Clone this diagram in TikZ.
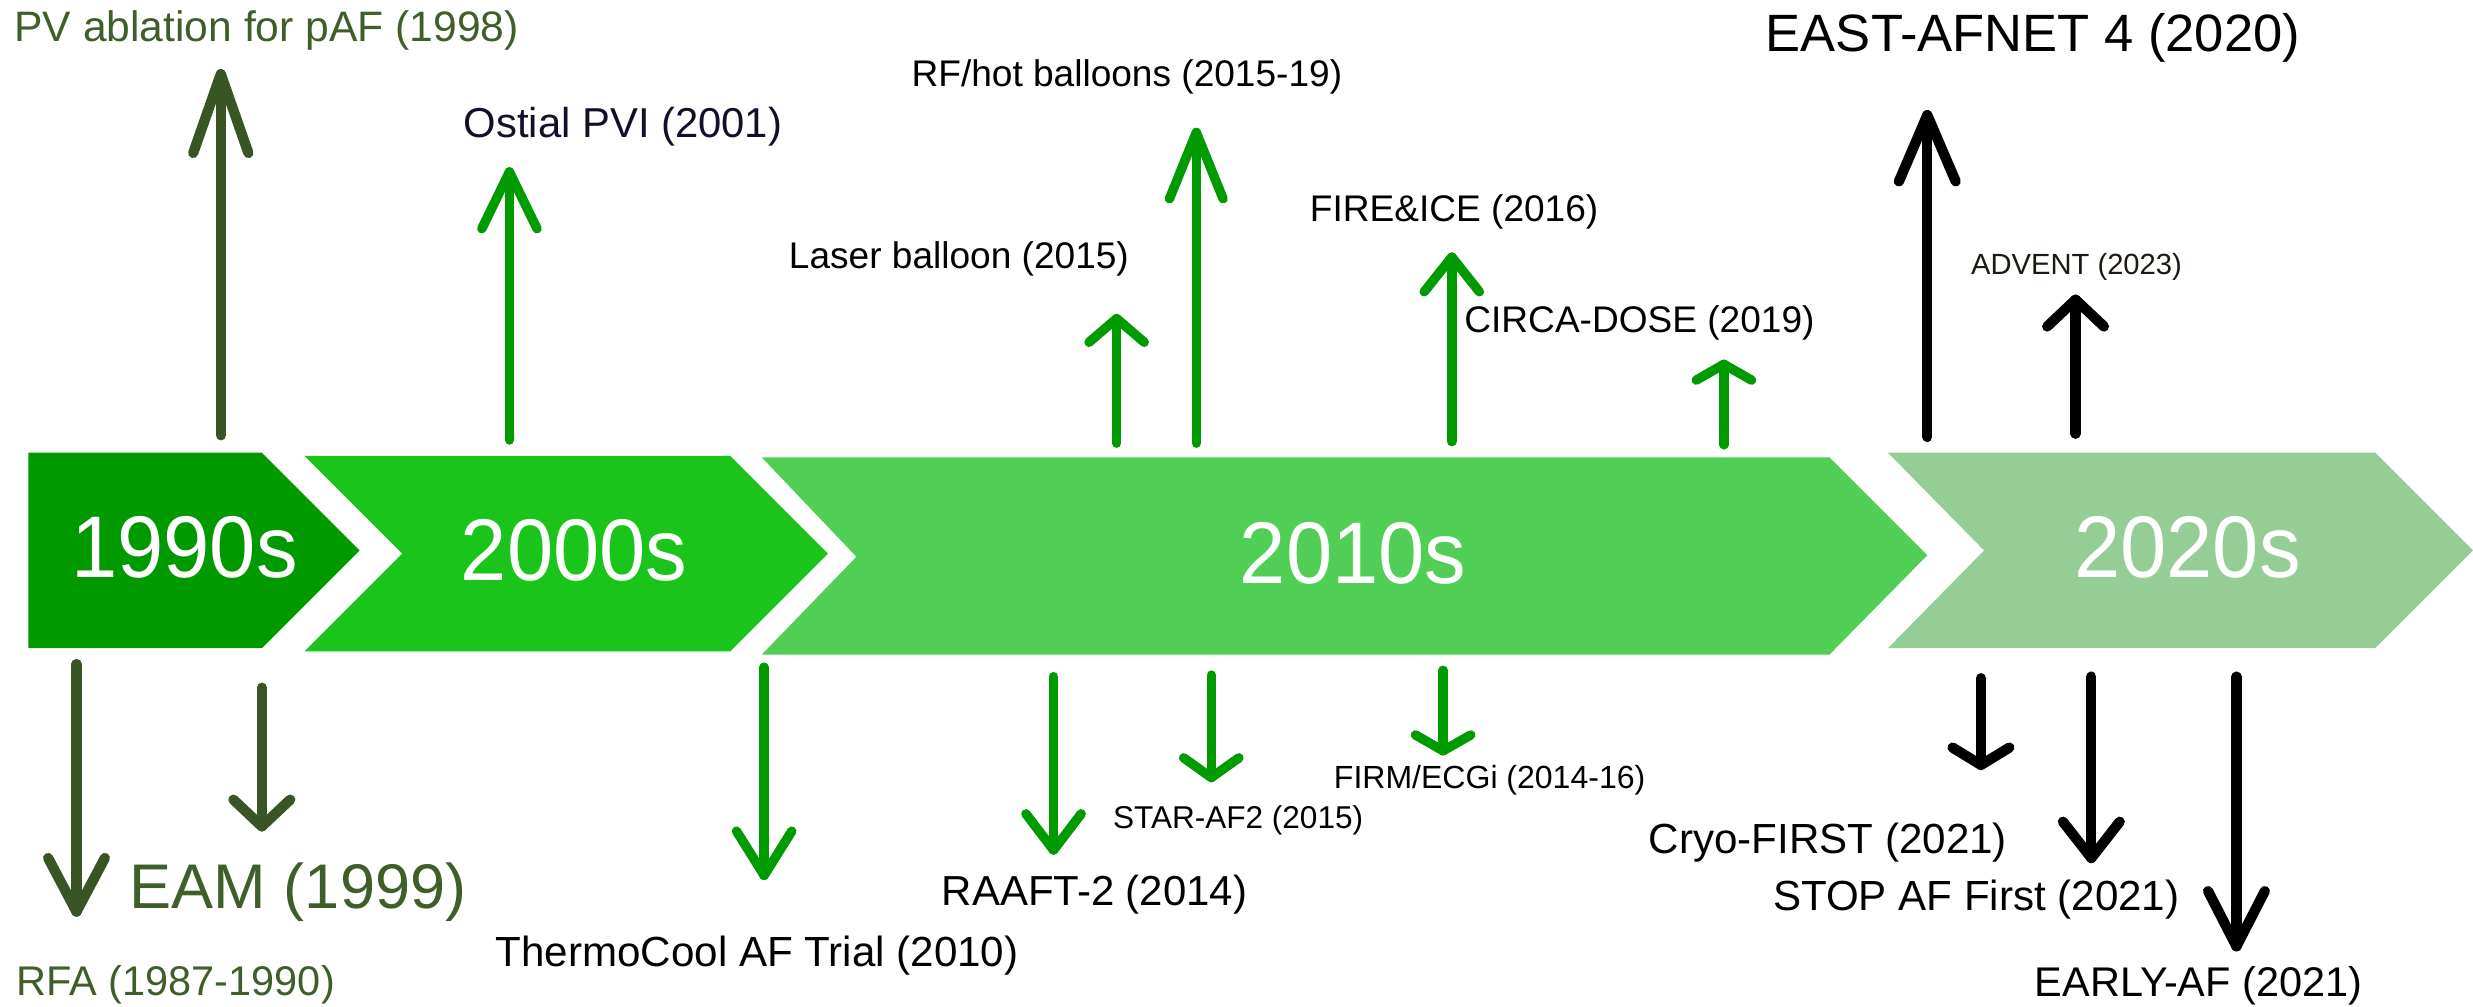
\documentclass[tikz,border=0pt]{standalone}
\usepackage{fontspec}
\usepackage{graphicx}
\setmainfont{Liberation Sans}
\usetikzlibrary{calc}
\definecolor{cNinety}{RGB}{0,153,0}
\definecolor{cTwoK}{RGB}{26,196,26}
\definecolor{cTens}{RGB}{81,206,85}
\definecolor{cTwenties}{RGB}{150,204,150}
\definecolor{olivearr}{RGB}{58,85,37}
\definecolor{olivetxt}{RGB}{63,94,41}
\definecolor{greenarr}{RGB}{0,155,0}
\definecolor{navytxt}{RGB}{16,16,40}
\definecolor{adventtxt}{RGB}{30,25,15}
\newcommand\setfs[1]{\fontsize{#1}{#1}\selectfont}
\newcommand\narrowtxt[1]{\scalebox{0.95}[1]{#1}}
\newcommand\tlarrow[5]{%
  \draw[#1] (#2) -- (#3);
  \draw[#1] ($(#3)+(-#5,#4)$) -- (#3) -- ($(#3)+(#5,#4)$);}
\tikzset{
  lbl/.style={anchor=base, inner sep=0pt, outer sep=0pt},
  declbl/.style={lbl, text=white, font=\setfs{55.5}},
  oarr/.style={line width=6.5pt, line cap=round, line join=round, draw=olivearr},
  garr/.style={line width=6pt, line cap=round, line join=round, draw=greenarr},
  karr/.style={line width=6.5pt, line cap=round, line join=round, draw=black},
}
\begin{document}
\begin{tikzpicture}[x=1pt,y=-1pt]
\useasboundingbox (0,0) rectangle (1568,638);
% chevrons
\fill[cNinety] (18,287) -- (166,287) -- (228,349) -- (166,411) -- (18,411) -- cycle;
\fill[cTwoK] (193,289) -- (463,289) -- (525,351) -- (463,413) -- (193,413) -- (255,351) -- cycle;
\fill[cTens] (483,290) -- (1160,290) -- (1222,352) -- (1160,415) -- (483,415) -- (543,353) -- cycle;
\fill[cTwenties] (1197,287) -- (1506,287) -- (1568,349) -- (1506,411) -- (1197,411) -- (1258,349) -- cycle;
\node[declbl] (d1990) at (117,366) {\narrowtxt{1990s}};
\node[declbl] (d2000) at (364,368) {\narrowtxt{2000s}};
\node[declbl] (d2010) at (858,370) {\narrowtxt{2010s}};
\node[declbl] (d2020) at (1387,366) {\narrowtxt{2020s}};
% arrow coordinates (up)
\coordinate (pvS) at (140,276);   \coordinate (pvT) at (140,47);
\coordinate (osS) at (323,279);   \coordinate (osT) at (323,109);
\coordinate (laS) at (708,281);   \coordinate (laT) at (708,202);
\coordinate (rfS) at (758.5,281); \coordinate (rfT) at (758.5,84);
\coordinate (fiS) at (920.5,280); \coordinate (fiT) at (920.5,163);
\coordinate (ciS) at (1093,282);  \coordinate (ciT) at (1093,231);
\coordinate (eaS) at (1222,277);  \coordinate (eaT) at (1222,73);
\coordinate (adS) at (1316,275);  \coordinate (adT) at (1316,190);
% arrow coordinates (down)
\coordinate (rfaS) at (48.5,421); \coordinate (rfaT) at (48.5,578);
\coordinate (eamS) at (166,436);  \coordinate (eamT) at (166,524);
\coordinate (thS) at (484.5,423); \coordinate (thT) at (484.5,555);
\coordinate (raS) at (668,429);   \coordinate (raT) at (668,539);
\coordinate (stS) at (768,428);   \coordinate (stT) at (768,493);
\coordinate (fmS) at (915,425);   \coordinate (fmT) at (915,476);
\coordinate (crS) at (1256,430);  \coordinate (crT) at (1256,485);
\coordinate (spS) at (1326,429);  \coordinate (spT) at (1326,544);
\coordinate (elS) at (1418,429);  \coordinate (elT) at (1418,600);
% up arrows
\tlarrow{oarr}{pvS}{pvT}{50}{17.5}
\tlarrow{garr}{osS}{osT}{36}{17.5}
\tlarrow{garr}{laS}{laT}{15}{17.5}
\tlarrow{garr}{rfS}{rfT}{42}{17}
\tlarrow{garr}{fiS}{fiT}{22}{17.5}
\tlarrow{garr}{ciS}{ciT}{10}{17.5}
\tlarrow{karr}{eaS}{eaT}{42}{18}
\tlarrow{karr}{adS}{adT}{17}{18}
% down arrows
\tlarrow{oarr}{rfaS}{rfaT}{-34}{18}
\tlarrow{oarr}{eamS}{eamT}{-17}{18}
\tlarrow{garr}{thS}{thT}{-28}{17.5}
\tlarrow{garr}{raS}{raT}{-23}{17.5}
\tlarrow{garr}{stS}{stT}{-12.5}{17.5}
\tlarrow{garr}{fmS}{fmT}{-10}{17.5}
\tlarrow{karr}{crS}{crT}{-11}{18}
\tlarrow{karr}{spS}{spT}{-23}{18}
\tlarrow{karr}{elS}{elT}{-35}{18}
% labels
\node[lbl, text=olivetxt, font=\setfs{27}] (tpv) at (169,26) {PV ablation for pAF (1998)};
\node[lbl, text=navytxt, font=\setfs{26.5}] (tos) at (395,87) {Ostial PVI (2001)};
\node[lbl, font=\setfs{23.5}] (trf) at (714.5,55) {RF/hot balloons (2015-19)};
\node[lbl, font=\setfs{23.5}] (tla) at (608,170) {Laser balloon (2015)};
\node[lbl, font=\setfs{23.5}] (tfi) at (922,140.6) {FIRE\&ICE (2016)};
\node[lbl, font=\setfs{23.5}] (tci) at (1039.5,211) {CIRCA-DOSE (2019)};
\node[lbl, font=\setfs{33.3}] (tea) at (1289,32.8) {EAST-AFNET 4 (2020)};
\node[lbl, text=adventtxt, font=\setfs{18.5}] (tad) at (1316.6,174) {ADVENT (2023)};
\node[lbl, text=olivetxt, font=\setfs{40}] (team) at (189,576) {EAM (1999)};
\node[lbl, text=olivetxt, font=\setfs{26.3}] (trfa) at (111.5,631) {RFA (1987-1990)};
\node[lbl, font=\setfs{26.7}] (tth) at (480,612.5) {ThermoCool AF Trial (2010)};
\node[lbl, font=\setfs{26.6}] (tra) at (694,574) {RAAFT-2 (2014)};
\node[lbl, font=\setfs{20}] (tst) at (785,525) {STAR-AF2 (2015)};
\node[lbl, font=\setfs{20.3}] (tfm) at (944.5,500) {FIRM/ECGi (2014-16)};
\node[lbl, font=\setfs{26.7}] (tcr) at (1159,541) {Cryo-FIRST (2021)};
\node[lbl, font=\setfs{26.7}] (tsp) at (1253,577) {STOP AF First (2021)};
\node[lbl, font=\setfs{26.3}] (tel) at (1394,632) {EARLY-AF (2021)};
\end{tikzpicture}
\end{document}
